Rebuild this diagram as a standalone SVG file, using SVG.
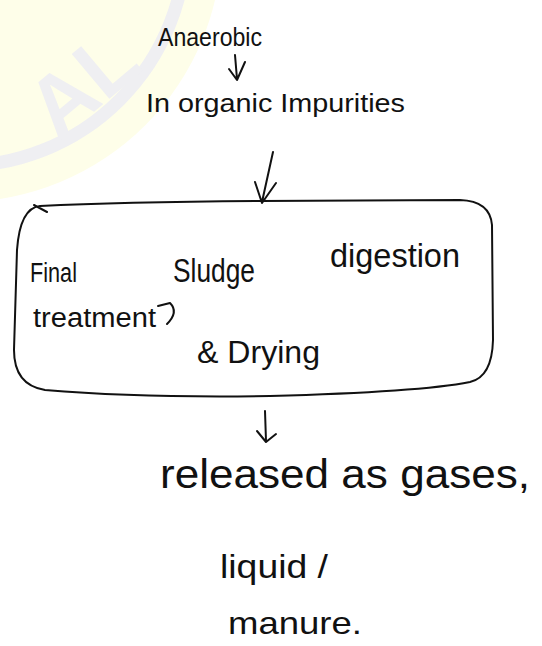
<svg xmlns="http://www.w3.org/2000/svg" width="542" height="646" viewBox="0 0 542 646">
  <style>
    .hand { font-family: "Liberation Sans", "DejaVu Sans", sans-serif; fill: #111; }
    .pen { fill: none; stroke: #111; stroke-width: 2; stroke-linecap: round; stroke-linejoin: round; }
    .mark { font-family: "Liberation Sans", sans-serif; font-weight: bold; fill: #efeff2; }
  </style>

  <rect width="542" height="646" fill="#ffffff"/>

  <!-- faint round stamp in the upper-left corner -->
  <g id="stamp">
    <circle cx="-40" cy="-60" r="262" fill="#fefee9"/>
    <circle cx="-40" cy="-60" r="226" fill="none" stroke="#efeff2" stroke-width="13"/>
    <text class="mark" x="0" y="0" font-size="85" transform="translate(58 142) rotate(-40)">AL</text>
  </g>

  <!-- connectors -->
  <g id="connectors">
    <path class="pen" d="M 235 55 L 237 79 M 229 69 L 237 80 L 245 62"/>
    <path class="pen" d="M 273 152 L 262 202 M 255 182 L 262 203 L 276 183"/>
    <path class="pen" d="M 265 411 L 266 441 M 257 431 L 266 442 L 276 434"/>
  </g>

  <g id="anaerobic">
    <text class="hand" x="158" y="46" font-size="25" textLength="104" lengthAdjust="spacingAndGlyphs">Anaerobic</text>
  </g>

  <g id="impurities">
    <text class="hand" x="146" y="112" font-size="26" textLength="259" lengthAdjust="spacingAndGlyphs">In organic Impurities</text>
  </g>

  <g id="sludge-box">
    <path class="pen" d="M 40 206 Q 20 208 17 250 L 14 350 Q 14 385 45 390 Q 140 398 270 396 Q 420 392 470 382 Q 492 377 493 340 L 492 225 Q 490 201 460 200 L 260 201 Q 120 202 40 206 M 34 205 L 47 212"/>
    <text class="hand" x="30" y="282" font-size="27" textLength="47" lengthAdjust="spacingAndGlyphs">Final</text>
    <text class="hand" x="173" y="282" font-size="34" textLength="82" lengthAdjust="spacingAndGlyphs">Sludge</text>
    <text class="hand" x="330" y="267" font-size="34" textLength="130" lengthAdjust="spacingAndGlyphs">digestion</text>
    <text class="hand" x="33" y="327" font-size="27" textLength="123" lengthAdjust="spacingAndGlyphs">treatment</text>
    <path class="pen" d="M 158 306 L 170 303 Q 179 312 167 324"/>
    <text class="hand" x="197" y="363" font-size="32" textLength="123" lengthAdjust="spacingAndGlyphs">&amp; Drying</text>
  </g>

  <g id="products">
    <text class="hand" x="160" y="488" font-size="40" textLength="370" lengthAdjust="spacingAndGlyphs">released as gases,</text>
    <text class="hand" x="220" y="578" font-size="34" textLength="108" lengthAdjust="spacingAndGlyphs">liquid /</text>
    <text class="hand" x="228" y="634" font-size="32" textLength="134" lengthAdjust="spacingAndGlyphs">manure.</text>
  </g>
</svg>
